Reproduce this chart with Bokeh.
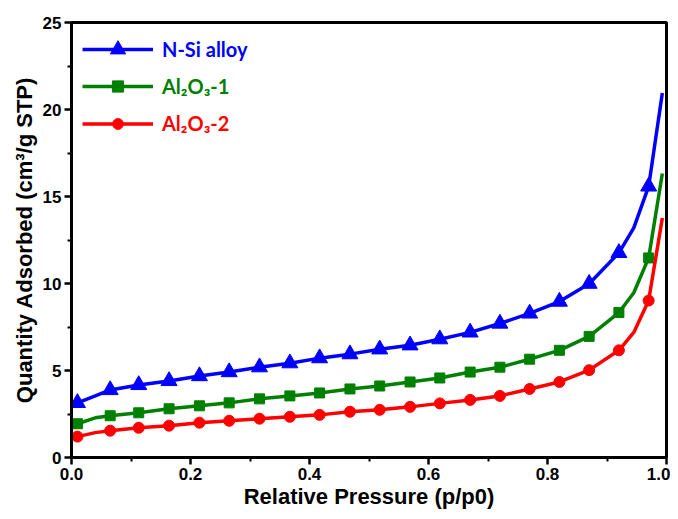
from bokeh.plotting import figure
from bokeh.models import Legend, LegendItem, FixedTicker, PrintfTickFormatter, Range1d
from bokeh.embed import file_html
from bokeh.resources import INLINE

# Data
x_vals = [0.01, 0.04, 0.065, 0.113, 0.164, 0.215, 0.265, 0.316, 0.367, 0.417, 0.468, 0.518,
          0.569, 0.619, 0.67, 0.72, 0.77, 0.82, 0.87, 0.92, 0.945, 0.97, 0.993]
nsi_alloy = [3.14, 3.54, 3.88, 4.17, 4.40, 4.68, 4.91, 5.19, 5.42, 5.71, 5.94, 6.22,
             6.45, 6.80, 7.19, 7.70, 8.28, 8.96, 9.99, 11.76, 13.2, 15.58, 20.95]
al2o3_1 = [1.94, 2.28, 2.40, 2.57, 2.80, 2.97, 3.14, 3.37, 3.54, 3.71, 3.94, 4.11,
           4.34, 4.57, 4.91, 5.19, 5.65, 6.16, 6.96, 8.33, 9.47, 11.47, 16.32]
al2o3_2 = [1.20, 1.43, 1.54, 1.71, 1.83, 2.00, 2.11, 2.23, 2.34, 2.45, 2.63, 2.74,
           2.91, 3.11, 3.31, 3.54, 3.94, 4.34, 5.02, 6.16, 7.19, 9.02, 13.76]
unmarked_idx = [1, 20, 22]
labels = ["N-Si alloy", "Al\u2082O\u2083-1", "Al\u2082O\u2083-2"]
x_ticks = [0.0, 0.2, 0.4, 0.6, 0.8, 1.0]
y_ticks = [0, 5, 10, 15, 20, 25]

p = figure(width=670, height=511, output_backend="svg", toolbar_location=None,
           x_range=Range1d(0, 1.0), y_range=Range1d(0, 25),
           min_border_left=71, min_border_right=4, min_border_top=22, min_border_bottom=53)
p.grid.visible = False
p.outline_line_color = "black"
p.outline_line_width = 3
p.background_fill_color = "white"
p.border_fill_color = "white"

series = [(nsi_alloy, "#0000ff", "triangle", 16),
          (al2o3_1, "#008000", "square", 10),
          (al2o3_2, "#ff0000", "circle", 11)]
marked = [i for i in range(len(x_vals)) if i not in unmarked_idx]

font = "Liberation Sans"
leg_font = "Lato"
frame_h = 436
row_centers = [28, 65, 102]
glyph_hs = [38, 28, 27]
for (ys, col, mk, sz), lab, rc, gh in zip(series, labels, row_centers, glyph_hs):
    ln = p.line(x_vals, ys, line_color=col, line_width=3.5)
    sc = p.scatter([x_vals[i] for i in marked], [ys[i] for i in marked],
                   marker=mk, size=sz, fill_color=col, line_color=col)
    leg = Legend(items=[LegendItem(label=lab, renderers=[ln, sc])],
                 location=(11, frame_h - rc - gh / 2), border_line_color=None,
                 background_fill_alpha=0,
                 padding=0, margin=0, glyph_width=71, glyph_height=gh,
                 label_standoff=9, label_height=gh,
                 label_text_font=leg_font, label_text_font_style="bold",
                 label_text_font_size="20px", label_text_color=col)
    p.add_layout(leg)

for ax in (p.xaxis[0], p.yaxis[0]):
    ax.axis_line_width = 3
    ax.axis_line_color = "black"
    ax.major_tick_line_width = 2.5
    ax.minor_tick_line_width = 2
    ax.major_tick_out = 7
    ax.major_tick_in = 0
    ax.minor_tick_out = 4
    ax.minor_tick_in = 0
    ax.major_label_text_font = font
    ax.major_label_text_font_style = "bold"
    ax.major_label_text_font_size = "17px"
    ax.major_label_text_color = "black"
    ax.axis_label_text_font = font
    ax.axis_label_text_font_style = "bold"
    ax.axis_label_text_font_size = "22px"
    ax.axis_label_text_color = "black"

p.xaxis.ticker = FixedTicker(ticks=x_ticks, minor_ticks=[0.1, 0.3, 0.5, 0.7, 0.9])
p.xaxis.formatter = PrintfTickFormatter(format="%.1f")
p.yaxis.ticker = FixedTicker(ticks=y_ticks, minor_ticks=[2.5, 7.5, 12.5, 17.5, 22.5])
p.xaxis.axis_label = "Relative Pressure (p/p0)"
p.yaxis.axis_label = "Quantity Adsorbed (cm\u00b3/g STP)"
p.xaxis.major_label_standoff = 3
p.yaxis.major_label_standoff = 3
p.xaxis.axis_label_standoff = 1
p.yaxis.axis_label_standoff = 3

open("out.html", "w").write(file_html(p, INLINE))
